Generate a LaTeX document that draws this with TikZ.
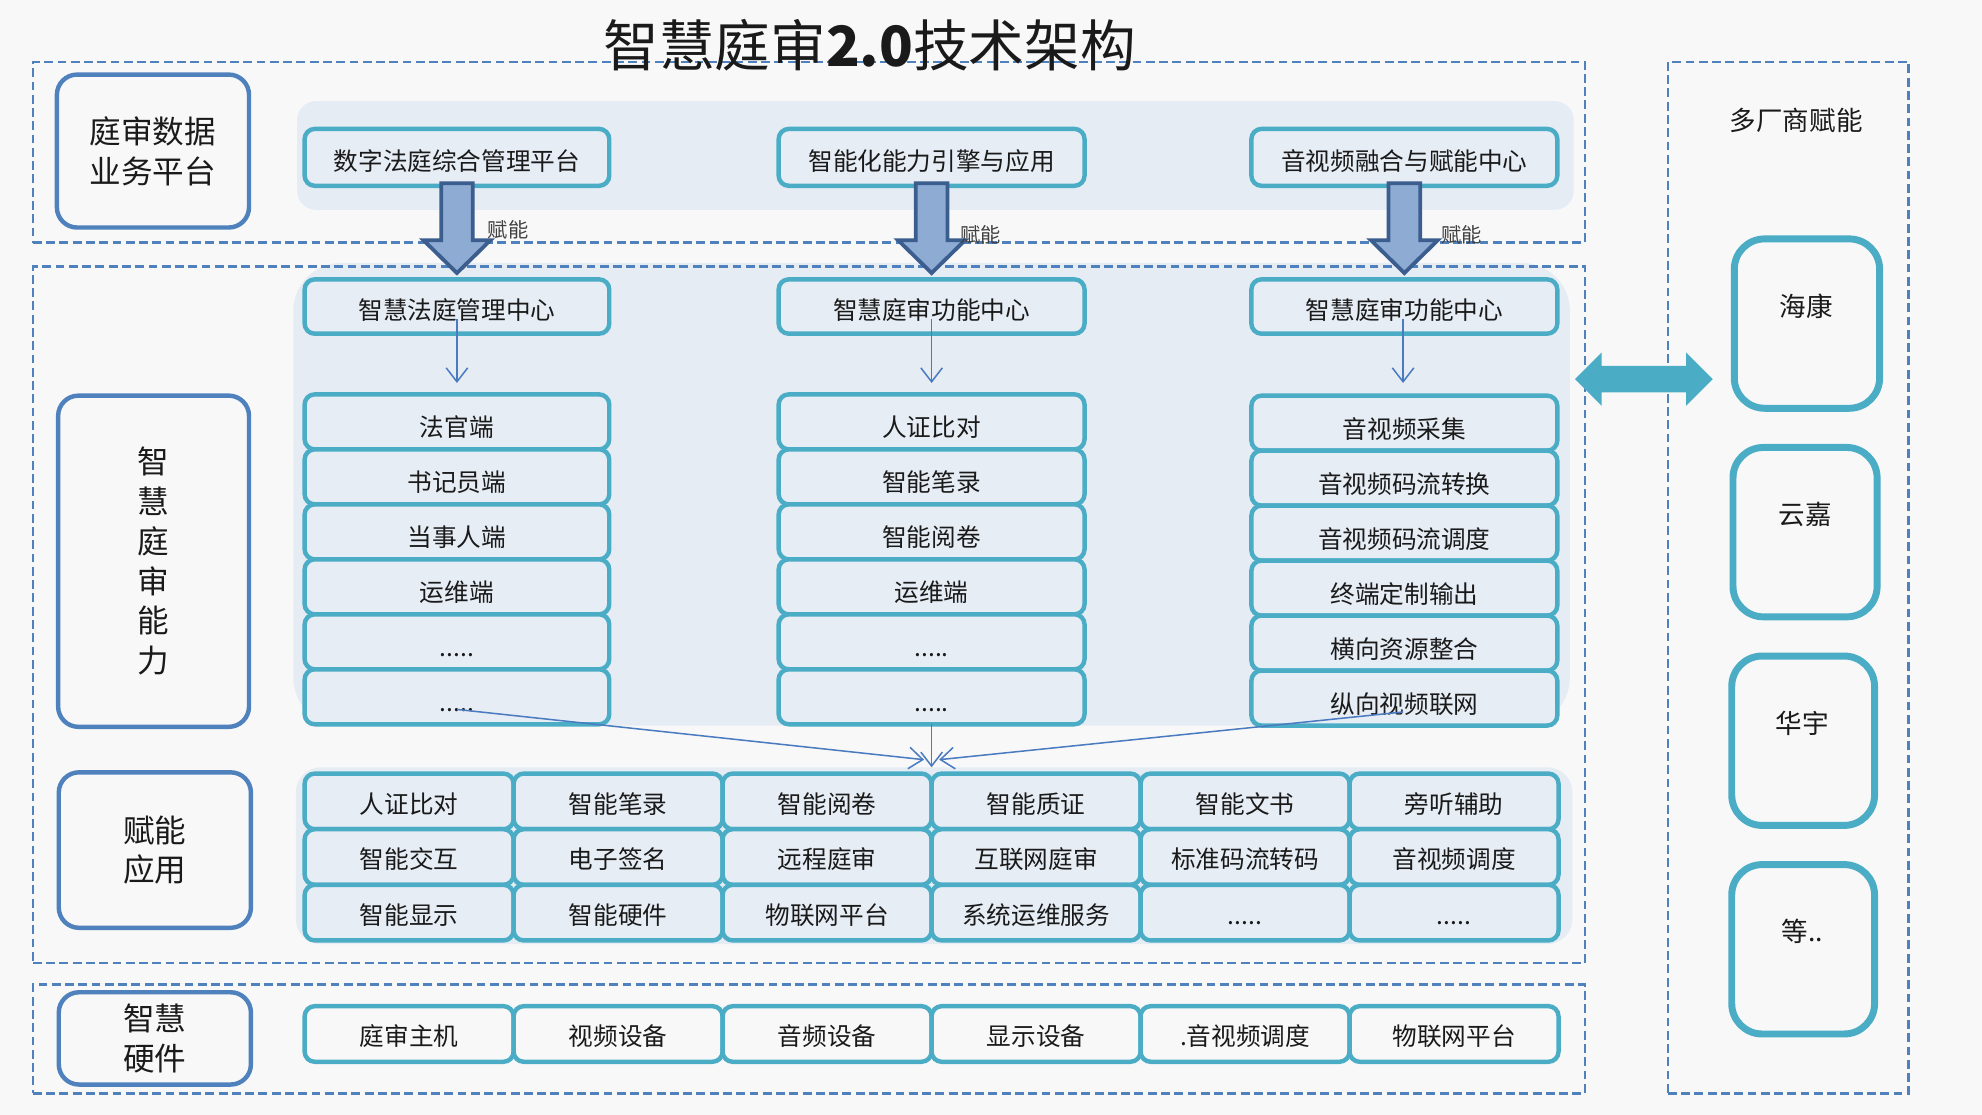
\documentclass[tikz,border=0pt]{standalone}
\usepackage{fontspec}
\setmainfont{Noto Sans CJK SC}
\usetikzlibrary{arrows.meta}
\definecolor{dblue}{HTML}{4F81BD}
\definecolor{tealc}{HTML}{4BACC6}
\definecolor{panelc}{HTML}{E5ECF4}
\definecolor{boxc}{HTML}{E6EDF5}
\definecolor{bgc}{HTML}{F8F8F8}
\definecolor{arrfill}{HTML}{8EABD4}
\definecolor{arrline}{HTML}{3B5E8E}
\definecolor{thinc}{HTML}{4A7BC0}
\definecolor{txtc}{HTML}{1A1A1A}
\newcommand{\boxat}[7]{\node[#1, minimum width={((#5)-(#3))*1pt}, minimum height={((#6)-(#4))*1pt}] (#2) at ({((#3)+(#5))/2},{((#4)+(#6))/2}) {#7};}
\newcommand{\fivedots}{.....}
\begin{document}
\begin{tikzpicture}[x=1pt,y=-1pt,
  every node/.style={text=txtc, inner sep=0pt, outer sep=0pt},
  dashbox/.style={draw=dblue, line width=2pt, dash pattern=on 7pt off 3.5pt},
  lblbox/.style={draw=dblue, line width=3.5pt, rounded corners=16pt, fill=bgc, align=center, font=\fontsize{25}{31.5}\selectfont},
  panel/.style={fill=panelc, rounded corners=15pt},
  tbox/.style={draw=tealc, line width=3.5pt, rounded corners=8pt, fill=boxc, font=\fontsize{19.5}{19.5}\selectfont, text height=21.2pt, text depth=2.3pt},
  hbox/.style={tbox, fill=bgc},
  listbox/.style={tbox, text height=26.2pt},
  headbox/.style={tbox, text height=23.2pt},
  vbox/.style={draw=tealc, line width=5.5pt, rounded corners=24pt},
  vtext/.style={font=\fontsize{21}{21}\selectfont, text height=18.5pt, text depth=2.5pt},
  bigarrow/.style={fill=arrfill, draw=arrline, line width=3pt, line join=miter},
  flabel/.style={font=\fontsize{16}{16}\selectfont, text=black!75, text height=14.1pt, text depth=1.9pt},
  thinarr/.style={draw=thinc, line width=1.2pt, -{Straight Barb[length=11pt,width=17pt,line width=1.2pt]}}
]
\useasboundingbox (0,0) rectangle (1568,882);
\fill[bgc] (0,0) rectangle (1568,882);

% light panels
\boxat{panel}{ptop}{235}{80}{1245}{166}{}
\boxat{panel, rounded corners=38pt}{pmid}{232}{208}{1242}{574}{}
\boxat{panel, rounded corners=20pt}{pgrid}{234}{607}{1244}{747}{}

% dashed frames
\boxat{dashbox}{dtop}{26}{49}{1254}{192}{}
\boxat{dashbox}{dmid}{26}{211}{1254}{762}{}
\boxat{dashbox}{dbot}{26}{779}{1254}{865}{}
\boxat{dashbox}{dright}{1319.5}{49}{1510}{865}{}

% title
\node[font=\fontsize{44}{44}\selectfont, text height=38.7pt, text depth=5.3pt] (title) at (688,36) {智慧庭审\textbf{2.0}技术架构};

% left labels
\boxat{lblbox}{lab1}{45}{59}{197}{180}{庭审数据\\业务平台}
\boxat{lblbox}{lab2}{46}{313}{197}{575}{智\\慧\\庭\\审\\能\\力}
\boxat{lblbox}{lab3}{46.5}{611}{198.5}{734}{赋能\\应用}
\boxat{lblbox}{lab4}{46.5}{785}{198.5}{858}{智慧\\硬件}

% top boxes
\boxat{headbox}{t1}{241}{102}{482}{147}{数字法庭综合管理平台}
\boxat{headbox}{t2}{616}{102}{858}{147}{智能化能力引擎与应用}
\boxat{headbox}{t3}{990}{102}{1232}{147}{音视频融合与赋能中心}

% headers
\boxat{headbox}{h1}{241}{221}{482}{264}{智慧法庭管理中心}
\boxat{headbox}{h2}{616}{221}{858}{264}{智慧庭审功能中心}
\boxat{headbox}{h3}{990}{221}{1232}{264}{智慧庭审功能中心}

% lists
\foreach \t [count=\i] in {法官端,书记员端,当事人端,运维端,\fivedots,\fivedots}
  {\boxat{listbox}{l\i}{241}{312+(\i-1)*43.5}{482}{312+\i*43.5}{\t}}
\foreach \t [count=\i] in {人证比对,智能笔录,智能阅卷,运维端,\fivedots,\fivedots}
  {\boxat{listbox}{m\i}{616}{312+(\i-1)*43.5}{858}{312+\i*43.5}{\t}}
\foreach \t [count=\i] in {音视频采集,音视频码流转换,音视频码流调度,终端定制输出,横向资源整合,纵向视频联网}
  {\boxat{listbox}{r\i}{990}{313+(\i-1)*43.5}{1232}{313+\i*43.5}{\t}}

% grid
\foreach \t [count=\i] in {人证比对,智能笔录,智能阅卷,智能质证,智能文书,旁听辅助}
  {\boxat{tbox}{ga\i}{241+(\i-1)*165.33}{612}{241+\i*165.33}{656}{\t}}
\foreach \t [count=\i] in {智能交互,电子签名,远程庭审,互联网庭审,标准码流转码,音视频调度}
  {\boxat{tbox}{gb\i}{241+(\i-1)*165.33}{656}{241+\i*165.33}{700}{\t}}
\foreach \t [count=\i] in {智能显示,智能硬件,物联网平台,系统运维服务,\fivedots,\fivedots}
  {\boxat{tbox}{gc\i}{241+(\i-1)*165.33}{700}{241+\i*165.33}{744}{\t}}

% hardware
\foreach \t [count=\i] in {庭审主机,视频设备,音频设备,显示设备,{.音视频调度},物联网平台}
  {\boxat{hbox}{hw\i}{241+(\i-1)*165.33}{796}{241+\i*165.33}{840}{\t}}

% vendors
\node[vtext] (vtitle) at (1421,95) {多厂商赋能};
\boxat{vbox}{v1}{1372}{189}{1487}{323}{}
\boxat{vbox}{v2}{1371}{354}{1485}{488}{}
\boxat{vbox}{v3}{1370}{519}{1483}{653}{}
\boxat{vbox}{v4}{1370}{684}{1483}{818}{}
\node[vtext] (v1t) at (1429,242) {海康};
\node[vtext] (v2t) at (1428,407) {云嘉};
\node[vtext] (v3t) at (1426,572) {华宇};
\node[vtext] (v4t) at (1426,737) {等..};

% big arrows
\foreach \n in {t1,t2,t3}{
  \begin{scope}[shift={(\n.south)}]
    \draw[bigarrow] (-12.5,-2) -- (12.5,-2) -- (12.5,43) -- (26.5,43) -- (0,69) -- (-26.5,43) -- (-12.5,43) -- cycle;
  \end{scope}
}
\node[flabel] (f1) at (402,182) {赋能};
\node[flabel] (f2) at (776,186) {赋能};
\node[flabel] (f3) at (1156,186) {赋能};

% double arrow
\fill[tealc] (1246,300) -- (1267,279) -- (1267,289.5) -- (1334,289.5) -- (1334,279) -- (1355,300) -- (1334,321) -- (1334,310.5) -- (1267,310.5) -- (1267,321) -- cycle;

% thin arrows
\draw[thinarr] ([yshift=-10pt]h1.center) -- ([yshift=9pt]l1.north);
\draw[thinarr] ([yshift=-10pt]h2.center) -- ([yshift=9pt]m1.north);
\draw[thinarr] ([xshift=-1pt,yshift=-10pt]h3.center) -- ([xshift=-1pt,yshift=10pt]r1.north);

\coordinate (cL) at (731,601);
\coordinate (cM) at (737,607);
\coordinate (cR) at (743,601);
\draw[thinarr] ([yshift=-10pt]l6.center) -- (cL);
\draw[thinarr] (m6.south) -- (cM);
\draw[thinarr] ([xshift=-1pt,yshift=-11pt]r6.center) -- (cR);
\end{tikzpicture}
\end{document}
